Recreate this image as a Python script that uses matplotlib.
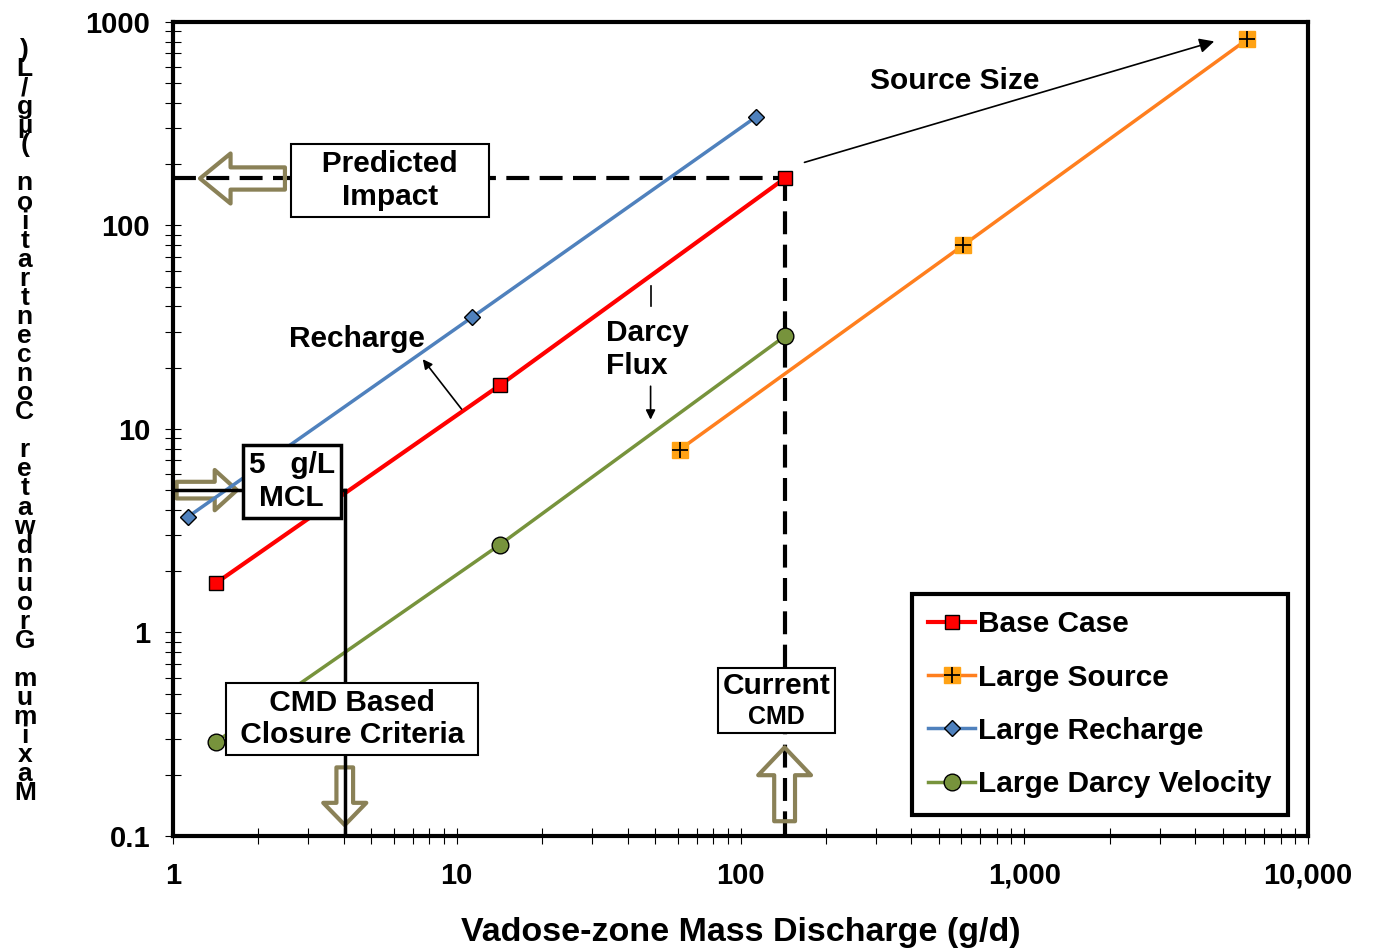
import numpy as np
import matplotlib
matplotlib.use("Agg")
import matplotlib.pyplot as plt
from matplotlib.offsetbox import TextArea, VPacker, AnnotationBbox

plt.rcParams['font.family'] = ['Liberation Sans', 'DejaVu Sans']
plt.rcParams['font.weight'] = 'bold'

# data
base_x = [1.42, 14.2, 143]
base_y = [1.75, 16.4, 170]
source_x = [61, 610, 6100]
source_y = [7.9, 80, 820]
recharge_x = [1.13, 11.3, 113]
recharge_y = [3.7, 35.3, 340]
darcy_x = [1.42, 14.2, 143]
darcy_y = [0.29, 2.7, 28.5]

mcl = 5
cmd_closure = 4.03
current_cmd = 143
predicted = 170

xticks = [1, 10, 100, 1000, 10000]
xtick_labels = ['1', '10', '100', '1,000', '10,000']
yticks = [0.1, 1, 10, 100, 1000]
ytick_labels = ['0.1', '1', '10', '100', '1000']
xlabel = 'Vadose-zone Mass Discharge (g/d)'
ylabel = 'Maximum Groundwater Concentration (µg/L)'

red = '#FF0000'
orange_line = '#FF7F1E'
orange_mk = '#FFA214'
blue = '#4F81BD'
green = '#77933C'
olive = '#8A8157'

fig = plt.figure(figsize=(13.73, 9.52), dpi=100)
ax = fig.add_axes([0.126, 0.122, 0.8267, 0.855])
ax.set_xscale('log')
ax.set_yscale('log')
ax.set_xlim(1, 10000)
ax.set_ylim(0.1, 1000)

# reference lines
ax.plot([1, current_cmd], [predicted, predicted], color='k', lw=3, dashes=(5.5, 2.5), zorder=1)
ax.plot([current_cmd, current_cmd], [predicted, 0.1], color='k', lw=3, dashes=(5.5, 2.5), zorder=1)
ax.plot([1, cmd_closure], [mcl, mcl], color='k', lw=2.5, zorder=4)
ax.plot([cmd_closure, cmd_closure], [mcl, 0.1], color='k', lw=2.5, zorder=4)

h_base, = ax.plot(base_x, base_y, color=red, lw=3, marker='s', ms=10,
                  mfc=red, mec='k', mew=1, zorder=3)
h_src, = ax.plot(source_x, source_y, color=orange_line, lw=2.5, marker='s', ms=11,
                 mfc=orange_mk, mec=orange_mk, zorder=3)
h_plus, = ax.plot(source_x, source_y, ls='none', marker='+', ms=11, mew=1.3,
                  color='k', zorder=3)
h_rech, = ax.plot(recharge_x, recharge_y, color=blue, lw=2.5, marker='D', ms=8,
                  mfc=blue, mec='k', mew=1, zorder=3)
h_darcy, = ax.plot(darcy_x, darcy_y, color=green, lw=2.5, marker='o', ms=12,
                   mfc=green, mec='k', mew=1, zorder=3)

for s in ax.spines.values():
    s.set_linewidth(3)
ax.set_xticks(xticks)
ax.set_xticklabels(xtick_labels)
ax.set_yticks(yticks)
ax.set_yticklabels(ytick_labels)
ax.tick_params(which='both', direction='inout', top=False, right=False, width=0.8)
ax.tick_params(which='major', length=11, labelsize=21)
ax.tick_params(axis='x', which='major', pad=13)
ax.tick_params(axis='y', which='major', pad=11)
ax.tick_params(which='minor', length=11)
ax.set_xlabel(xlabel, fontsize=24.5, fontweight='bold', labelpad=20)

# stacked y label as it appears in the original
fig.text(0.018, 0.557, '\n'.join(reversed(ylabel)), ha='center', va='center',
         fontsize=19, fontweight='bold', linespacing=0.74)


def block_arrow(start, end, head_w, head_l, tail_w):
    ax.annotate('', xy=end, xytext=start,
                arrowprops=dict(arrowstyle=f'simple,head_length={head_l},head_width={head_w},tail_width={tail_w}',
                                fc='none', ec=olive, lw=3, mutation_scale=1,
                                shrinkA=0, shrinkB=0), zorder=2)


block_arrow((2.48, predicted), (1.245, predicted), 36, 22, 16)
block_arrow((1.03, mcl), (1.68, mcl), 29, 16, 12)
block_arrow((cmd_closure, 0.217), (cmd_closure, 0.113), 31, 16, 12)
block_arrow((current_cmd, 0.118), (current_cmd, 0.272), 38, 20, 15)

box = dict(boxstyle='square,pad=0.2', fc='white', ec='k', lw=1.5)
ax.text(5.81, 166, '   Predicted   \nImpact', ha='center', va='center', fontsize=21.5,
        fontweight='bold', multialignment='center', bbox=box, zorder=6)
ax.text(2.62, 5.52, '5   g/L\nMCL', ha='center', va='center', fontsize=21.5,
        fontweight='bold', multialignment='center', zorder=6,
        bbox=dict(boxstyle='square,pad=0.2', fc='white', ec='k', lw=2.5))
ax.text(4.27, 0.374, ' CMD Based \n Closure Criteria ', ha='center', va='center',
        fontsize=21.5, fontweight='bold', multialignment='center', bbox=box, zorder=6)

cur = VPacker(children=[TextArea('Current', textprops=dict(fontsize=21.5, fontweight='bold')),
                        TextArea('CMD', textprops=dict(fontsize=18, fontweight='bold'))],
              align='center', pad=0, sep=3)
ab = AnnotationBbox(cur, (134, 0.463), xycoords='data', frameon=True, pad=0.25,
                    bboxprops=dict(boxstyle='square', fc='white', ec='k', lw=1.5), zorder=6)
ax.add_artist(ab)

# annotations
ax.text(567, 510, 'Source Size', ha='center', va='center', fontsize=21.5, fontweight='bold')
ax.annotate('', xy=(4670, 802), xytext=(168, 204),
            arrowprops=dict(arrowstyle='-|>', color='k', lw=1.2, mutation_scale=22,
                            shrinkA=0, shrinkB=0))
ax.text(4.45, 27.8, 'Recharge', ha='center', va='center', fontsize=21.5, fontweight='bold')
ax.annotate('', xy=(7.59, 22.0), xytext=(10.4, 12.5),
            arrowprops=dict(arrowstyle='-|>', color='k', lw=1.2, mutation_scale=14,
                            shrinkA=0, shrinkB=0))
ax.text(47.1, 24.6, 'Darcy\nFlux', ha='center', va='center', fontsize=21.5,
        fontweight='bold', multialignment='left', linespacing=1.2)
ax.plot([48.2, 48.2], [50.2, 40], color='k', lw=1.2)
ax.annotate('', xy=(48.2, 11.1), xytext=(48.2, 16.2),
            arrowprops=dict(arrowstyle='-|>', color='k', lw=1.2, mutation_scale=14,
                            shrinkA=0, shrinkB=0))

leg = ax.legend([h_base, (h_src, h_plus), h_rech, h_darcy],
                ['Base Case', 'Large Source', 'Large Recharge', 'Large Darcy Velocity'],
                loc='lower right', bbox_to_anchor=(0.982, 0.026), fontsize=21.5,
                numpoints=1, handlelength=1.55, handletextpad=0.1, labelspacing=0.85,
                borderpad=0.55, borderaxespad=0, fancybox=False, framealpha=1, edgecolor='k')
leg.get_frame().set_linewidth(3)
for t in leg.get_texts():
    t.set_fontweight('bold')

fig.savefig('out.png', dpi=100)
